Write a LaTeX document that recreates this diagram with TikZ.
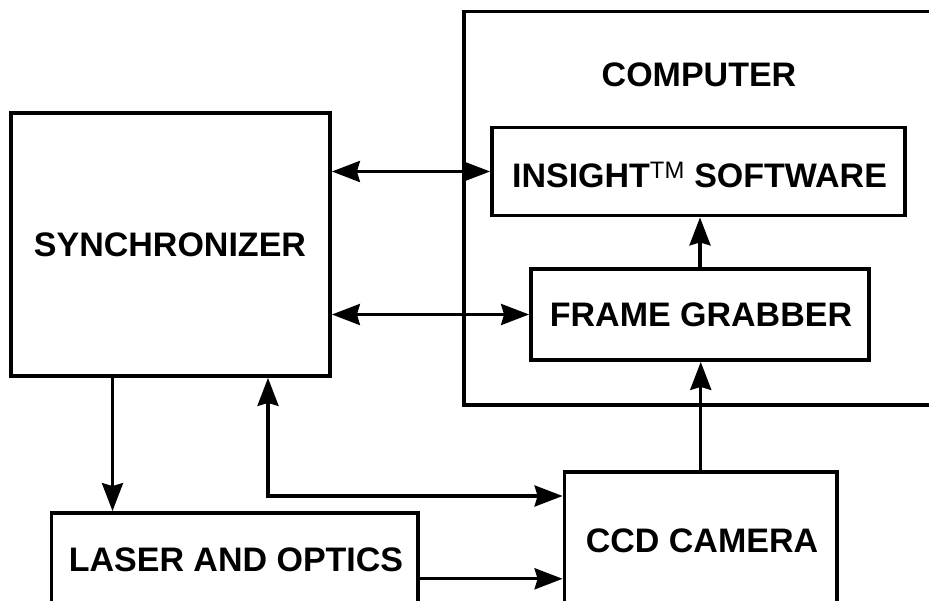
\documentclass[tikz,border=0pt]{standalone}
\usepackage{fontspec}
\setmainfont{Liberation Sans}
\usetikzlibrary{arrows.meta, positioning}

\begin{document}
\begin{tikzpicture}[x=1pt, y=-1pt,
        blk/.style={draw, line width=3.8pt, rectangle, inner sep=0pt},
        lbl/.style={font=\fontsize{34}{40}\selectfont\bfseries, anchor=base, inner sep=0pt},
        con/.style={line width=3.3pt, -{Stealth[length=28pt, width=21pt, inset=3pt]}},
        bicon/.style={line width=3.3pt, {Stealth[length=28pt, width=21pt, inset=3pt]}-{Stealth[length=28pt, width=21pt, inset=3pt]}}]
            \useasboundingbox (0,0) rectangle (929,601);
            \node[blk, minimum width=319pt, minimum height=263pt] (sync) at (170.5,244.5) {};
            \node[blk, minimum width=496pt, minimum height=393.5pt] (comp) at (712,208.25) {};
            \node[blk, minimum width=413pt, minimum height=88pt] (insight) at (698.5,171.5) {};
            \node[blk, minimum width=338pt, minimum height=91pt] (frame) at (700,314.5) {};
            \node[blk, minimum width=366.5pt, minimum height=127pt] (laser) at (234.75,576.5) {};
            \node[blk, minimum width=272.5pt, minimum height=168pt] (ccd) at (700.75,556) {};

            \node[lbl] (synctxt) at (170,256.7) {SYNCHRONIZER};
            \node[lbl] (comptxt) at (699,87) {COMPUTER};
            \node[lbl] (insighttxt) at (699.5,188) {INSIGHT\textsuperscript{\mdseries TM} SOFTWARE};
            \node[lbl] (frametxt) at (701,327) {FRAME GRABBER};
            \node[lbl] (lasertxt) at (236,571) {LASER AND OPTICS};
            \node[lbl] (ccdtxt) at (702,552) {CCD CAMERA};

            \coordinate (s1) at ([xshift=-58pt]sync.south);
            \coordinate (s2) at ([xshift=97.5pt]sync.south);
            \coordinate (c1) at ([yshift=60pt]ccd.west);
            \coordinate (l1) at ([yshift=-2.3pt]laser.east);

            \draw[bicon] (sync.east |- insight.west) -- (insight.west);
            \draw[bicon] (sync.east |- frame.west) -- (frame.west);
            \draw[con] (frame.north) -- (frame.north |- insight.south);
            \draw[con] (ccd.north) -- (ccd.north |- frame.south);
            \draw[con] (s1) -- (s1 |- laser.north);
            \draw[bicon] (s2) |- (c1);
            \draw[con] (l1) -- (l1 -| ccd.west);
\end{tikzpicture}
\end{document}
